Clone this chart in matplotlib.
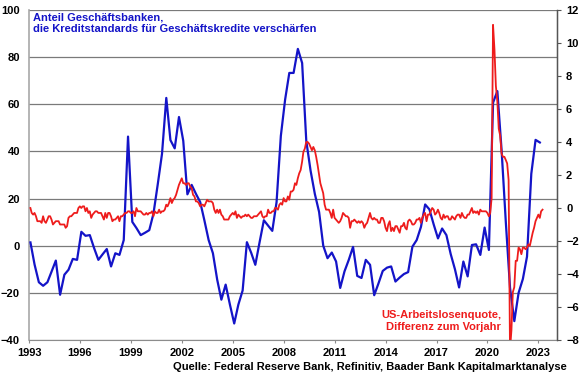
import pandas as pd
import matplotlib
matplotlib.use("Agg")
from matplotlib import pyplot as plt
from datetime import datetime

plt.rcParams['font.family'] = ['Liberation Sans', 'DejaVu Sans']
plt.rcParams['font.weight'] = 'bold'
plt.rcParams['font.size'] = 8

# Anteil Banken mit verschaerften Kreditstandards (quartalsweise, ab Feb 1993)
kredit_standards = [
    1.4, -8, -15.5, -17,        # 1993
    -15.5, -11, -6.3, -20.8,    # 1994
    -12.3, -10.2, -5.6, -6,     # 1995
    5.9, 4.2, 4.5, -1,          # 1996
    -6, -3.7, -1.4, -8.8,       # 1997
    -3.2, -3.9, 2.4, 46.3,      # 1998
    10.1, 7.5, 4.5, 5.5,        # 1999
    6.6, 13.6, 26, 39,          # 2000
    62.7, 44.8, 41.3, 54.6,     # 2001
    44.5, 21.8, 25.8, 22,       # 2002
    18.5, 10.8, 2.4, -3.2,      # 2003
    -14.4, -22.9, -16.5, -25,   # 2004
    -33, -25, -19, 1.5,         # 2005
    -3, -8.1, 1.5, 10.8,        # 2006
    8.5, 6.3, 18.5, 46.6,       # 2007
    62, 73.3, 73.3, 83.5,       # 2008
    77.5, 44.5, 31.9, 22,       # 2009
    14.3, 0, -5.3, -2.9,        # 2010
    -6.7, -17.9, -10.9, -6,     # 2011
    -0.5, -12.8, -13.7, -6,     # 2012
    -8.1, -21, -16, -10.7,      # 2013
    -9.3, -8.8, -15.2, -13.5,   # 2014
    -12, -11.2, -0.4, 2.4,      # 2015
    8, 17.5, 15.4, 9,           # 2016
    3.1, 7.3, 4.5, -3.5,        # 2017
    -10, -17.7, -6.7, -13,      # 2018
    0.3, 0.6, -3.9, 7.7,        # 2019
    -1.8, 60.7, 65.6, 40.3,     # 2020
    9.4, -17.9, -32, -20,       # 2021
    -14.1, -4.6, 30.5, 44.9,    # 2022
    43.8,                       # 2023
]

# US-Arbeitslosenquote, Differenz zum Vorjahr (monatlich, ab Jan 1993)
alq_diff = [
    0.0, -0.3, -0.4, -0.3, -0.5, -0.8, -0.8, -0.8, -0.9, -0.5, -0.8, -0.9,   # 1993
    -0.7, -0.5, -0.5, -0.7, -1.0, -0.9, -0.8, -0.8, -0.8, -1.0, -1.0, -1.0,  # 1994
    -1.0, -1.2, -1.1, -0.6, -0.5, -0.5, -0.4, -0.3, -0.3, -0.3, 0.0, 0.1,    # 1995
    0.0, 0.1, 0.1, -0.2, 0.0, -0.3, -0.2, -0.6, -0.4, -0.3, -0.2, -0.2,      # 1996
    -0.3, -0.3, -0.3, -0.5, -0.7, -0.3, -0.6, -0.3, -0.3, -0.5, -0.8, -0.7,  # 1997
    -0.7, -0.6, -0.5, -0.8, -0.5, -0.5, -0.4, -0.3, -0.3, -0.2, -0.2, -0.3,  # 1998
    -0.3, -0.2, -0.5, 0.0, -0.2, -0.2, -0.2, -0.3, -0.4, -0.4, -0.3, -0.4,   # 1999
    -0.3, -0.3, -0.2, -0.5, -0.2, -0.3, -0.3, -0.1, -0.3, -0.2, -0.2, -0.1,  # 2000
    0.2, 0.1, 0.3, 0.6, 0.3, 0.5, 0.6, 0.8, 1.1, 1.4, 1.6, 1.8,              # 2001
    1.5, 1.5, 1.4, 1.5, 1.5, 1.3, 1.2, 0.8, 0.7, 0.4, 0.4, 0.3,              # 2002
    0.1, 0.2, 0.2, 0.1, 0.3, 0.5, 0.4, 0.4, 0.4, 0.3, -0.1, -0.3,            # 2003
    -0.1, -0.3, -0.1, -0.4, -0.5, -0.7, -0.7, -0.7, -0.7, -0.5, -0.4, -0.3,  # 2004
    -0.4, -0.2, -0.6, -0.4, -0.5, -0.6, -0.5, -0.5, -0.4, -0.5, -0.4, -0.5,  # 2005
    -0.6, -0.6, -0.5, -0.5, -0.5, -0.4, -0.3, -0.2, -0.5, -0.6, -0.5, -0.5,  # 2006
    -0.1, -0.3, -0.3, -0.2, -0.2, 0.0, 0.0, -0.1, 0.2, 0.3, 0.2, 0.6,        # 2007
    0.4, 0.4, 0.7, 0.5, 1.0, 1.0, 1.1, 1.5, 1.4, 1.8, 2.1, 2.3,              # 2008
    2.8, 3.4, 3.6, 4.0, 4.0, 3.9, 3.7, 3.5, 3.7, 3.5, 3.1, 2.6,              # 2009
    2.0, 1.5, 1.2, 0.9, 0.2, -0.1, -0.1, -0.1, -0.3, -0.6, -0.1, -0.6,       # 2010
    -0.7, -0.8, -0.9, -0.8, -0.6, -0.3, -0.4, -0.5, -0.5, -0.6, -1.2, -0.8,  # 2011
    -0.8, -0.7, -0.8, -0.9, -0.8, -0.9, -0.8, -0.9, -1.2, -1.0, -0.9, -0.6,  # 2012
    -0.3, -0.6, -0.7, -0.6, -0.7, -0.7, -0.9, -0.9, -0.6, -0.6, -0.8, -1.2,  # 2013
    -1.4, -1.0, -0.8, -1.4, -1.2, -1.4, -1.1, -1.1, -1.3, -1.5, -1.1, -1.1,  # 2014
    -0.9, -1.2, -1.3, -0.8, -0.7, -0.8, -1.0, -1.0, -0.9, -0.7, -0.7, -0.6,  # 2015
    -0.9, -0.6, -0.4, -0.3, -0.8, -0.4, -0.4, -0.2, 0.0, -0.1, -0.4, -0.3,   # 2016
    -0.1, -0.3, -0.6, -0.7, -0.4, -0.6, -0.5, -0.5, -0.7, -0.7, -0.5, -0.6,  # 2017
    -0.7, -0.5, -0.4, -0.4, -0.6, -0.3, -0.5, -0.6, -0.6, -0.4, -0.4, -0.2,  # 2018
    0.0, -0.3, -0.2, -0.3, -0.2, -0.4, -0.1, -0.2, -0.2, -0.2, -0.2, -0.3,   # 2019
    -0.5, -0.3, 0.6, 11.1, 9.6, 7.4, 6.5, 4.8, 4.4, 3.3, 3.1, 3.1,           # 2020
    2.9, 2.7, 1.7, -8.6, -7.4, -5.1, -4.8, -3.2, -3.2, -2.4, -2.5, -2.8,     # 2021
    -2.4, -2.4, -2.5, -2.4, -2.2, -2.3, -1.9, -1.5, -1.2, -0.8, -0.6, -0.4,  # 2022
    -0.6, -0.2, -0.1,                                                        # 2023
]

tick_jahre = [1993, 1996, 1999, 2002, 2005, 2008, 2011, 2014, 2017, 2020, 2023]
links_ticks = [-40, -20, 0, 20, 40, 60, 80, 100]
rechts_ticks = [-8, -6, -4, -2, 0, 2, 4, 6, 8, 10, 12]

BLAU = "#1414c8"
ROT = "#ee1c1c"

kredit_dates = pd.date_range("1993-02-01", periods=len(kredit_standards), freq="3MS")
alq_dates = pd.date_range("1993-02-01", periods=len(alq_diff), freq="MS") - pd.Timedelta(days=1)

W, H = 580, 375
fig = plt.figure(figsize=(W / 100, H / 100), dpi=100)
ax = fig.add_axes([29 / W, 35 / H, 528 / W, 330 / H])
ax2 = ax.twinx()

ax.plot(kredit_dates, kredit_standards, color=BLAU, lw=1.6, zorder=3)
ax2.plot(alq_dates, alq_diff, color=ROT, lw=1.3, zorder=3)

ax.set_xlim(datetime(1993, 1, 1), datetime(2024, 2, 5))
ax.set_ylim(-40, 100)
ax2.set_ylim(-8, 12)

ax.set_yticks(links_ticks)
ax2.set_yticks(rechts_ticks)
ax.set_xticks([datetime(j, 1, 1) for j in tick_jahre])
ax.set_xticklabels([str(j) for j in tick_jahre])

ax.grid(axis="y", color="#7a7a7a", lw=0.9)
ax.set_axisbelow(True)

for a in (ax, ax2):
    a.spines["top"].set_visible(False)
ax.spines["left"].set_color("#a8a8a8")
ax.spines["left"].set_linewidth(1.2)
ax.spines["bottom"].set_color("#8c8c8c")
ax2.spines["left"].set_visible(False)
ax2.spines["bottom"].set_visible(False)
ax2.spines["right"].set_color("#555555")
ax2.spines["right"].set_linewidth(1.0)

ax.tick_params(axis="y", length=0, pad=6.5, labelsize=8)
ax.tick_params(axis="x", length=2.5, color="#8c8c8c", pad=3.5, labelsize=8)
ax2.tick_params(axis="y", length=3, color="#555555", pad=3.5, labelsize=8)

fig.text(33 / W, 1 - 12 / H,
         "Anteil Geschäftsbanken,\ndie Kreditstandards für Geschäftskredite verschärfen",
         color=BLAU, fontsize=8, fontweight="bold", ha="left", va="top", linespacing=1.2)
fig.text(501 / W, 1 - 310 / H,
         "US-Arbeitslosenquote,\nDifferenz zum Vorjahr",
         color=ROT, fontsize=8, fontweight="bold", ha="right", va="top", linespacing=1.2)
fig.text(567 / W, 1 - 366.5 / H,
         "Quelle: Federal Reserve Bank, Refinitiv, Baader Bank Kapitalmarktanalyse",
         color="black", fontsize=8, fontweight="bold", ha="right", va="center")

fig.savefig("out.png", dpi=100)
